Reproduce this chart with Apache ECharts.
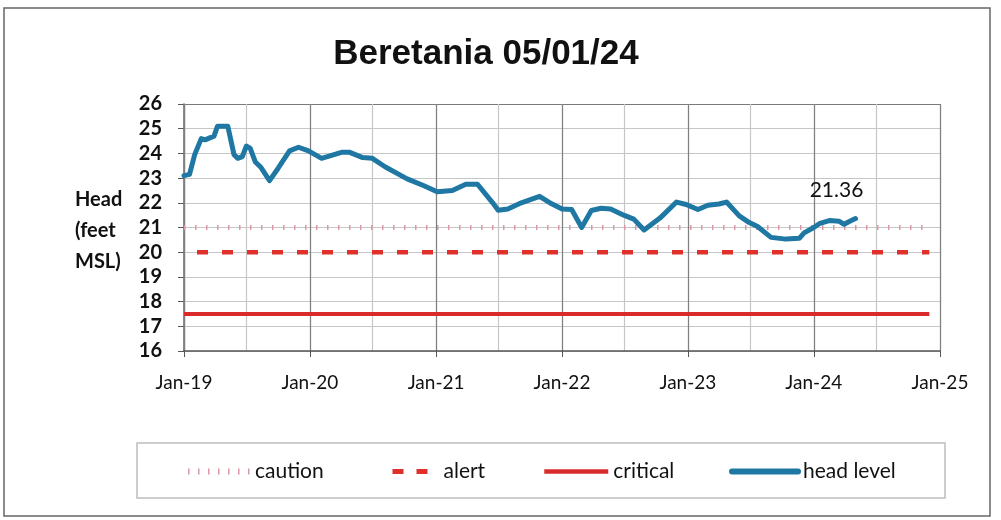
<!DOCTYPE html>
<html>
<head>
<meta charset="utf-8">
<script src="https://cdn.jsdelivr.net/npm/echarts@6/dist/echarts.min.js"></script>
<style>
html,body{margin:0;padding:0;background:#fff;}
#chart{width:1001px;height:520px;}
</style>
</head>
<body>
<div id="chart"></div>
<script>
const titleText = 'Beretania 05/01/24';
const yAxisTitle = 'Head\n(feet\nMSL)';
const yTicks = [16, 26, 1]; // min, max, step
const xRange = ['2019-01-01', '2025-01-01'];
const monthNames = ['Jan','Feb','Mar','Apr','May','Jun','Jul','Aug','Sep','Oct','Nov','Dec'];
const seriesNames = ['caution', 'alert', 'critical', 'head level'];

const headDates = [
  '2019-01-01','2019-01-17','2019-02-01','2019-02-20','2019-03-03','2019-03-29','2019-04-08','2019-05-08',
  '2019-05-26','2019-06-06','2019-06-19','2019-07-01','2019-07-12','2019-07-27','2019-08-11','2019-09-06',
  '2019-10-01','2019-11-03','2019-11-29','2019-12-28',
  '2020-02-04','2020-04-04','2020-04-24','2020-06-02','2020-06-30','2020-08-07','2020-10-09','2020-11-25',
  '2021-01-04','2021-02-17','2021-03-28','2021-05-01','2021-06-14','2021-06-30','2021-07-28','2021-09-05',
  '2021-10-28','2021-12-02',
  '2022-01-01','2022-01-29','2022-02-27','2022-03-27','2022-04-24','2022-05-22','2022-06-29','2022-07-28',
  '2022-08-27','2022-10-12','2022-11-29','2022-12-27',
  '2023-01-30','2023-02-28','2023-04-01','2023-04-23','2023-05-30','2023-06-28','2023-07-22','2023-08-30',
  '2023-10-12','2023-11-20','2023-12-04',
  '2024-01-01','2024-01-19','2024-02-15','2024-03-15','2024-03-29','2024-04-13','2024-05-01'
];
const headValues = [
  23.1, 23.15, 23.95, 24.6, 24.55, 24.7, 25.1, 25.1,
  23.95, 23.8, 23.87, 24.3, 24.2, 23.65, 23.45, 22.9,
  23.4, 24.1, 24.25, 24.1,
  23.8, 24.05, 24.05, 23.83, 23.8, 23.45, 22.97, 22.7,
  22.45, 22.5, 22.75, 22.75, 22.0, 21.7, 21.75, 22.0,
  22.26, 21.96,
  21.75, 21.73, 21.0, 21.69, 21.78, 21.75, 21.5, 21.34,
  20.9, 21.38, 22.03, 21.93,
  21.73, 21.9, 21.95, 22.03, 21.47, 21.2, 21.04, 20.6,
  20.53, 20.56, 20.78,
  21.0, 21.17, 21.28, 21.25, 21.13, 21.24, 21.36
];
const thresholdDates = ['2019-01-01', '2024-12-01'];
const cautionValues = [21, 21];
const alertValues = [20, 20];
const criticalValues = [17.5, 17.5];

const pair = (d, v) => d.map((x, i) => [x, v[i]]);
const lastIdx = headValues.length - 1;

const FONT = 'Lato';
const C_CAUTION = '#d99aa6', C_ALERT = '#e0302c', C_CRIT = '#d92b2b', C_HEAD = '#1f78a3';
const chart = echarts.init(document.getElementById('chart'), null, {renderer: 'canvas'});
const yN = Math.round((yTicks[1] - yTicks[0]) / yTicks[2]) + 1;
const yLineColors = Array.from({length: yN}, (_, i) => i === yN - 1 ? '#7a7a7a' : '#c6c6c6');

const legendBase = {top: 456, itemHeight: 14, textStyle: {fontFamily: FONT, fontSize: 21, color: '#111'},
                    itemStyle: {opacity: 0}, selectedMode: false};
const legends = [
  Object.assign({}, legendBase, {left: 180, itemWidth: 62, data: [{name: seriesNames[0], lineStyle: {width: 6, type: [1.5, 8.5], color: C_CAUTION}}]}),
  Object.assign({}, legendBase, {left: 373, itemWidth: 58, data: [{name: seriesNames[1], lineStyle: {width: 5, type: [11, 13], color: C_ALERT}}]}),
  Object.assign({}, legendBase, {left: 537, itemWidth: 64, data: [{name: seriesNames[2], lineStyle: {width: 4.5, color: C_CRIT}}]}),
  Object.assign({}, legendBase, {left: 724, itemWidth: 66, data: [{name: seriesNames[3], lineStyle: {width: 6, color: C_HEAD, cap: 'round'}}]})
];

chart.setOption({
  backgroundColor: '#ffffff',
  animation: false,
  title: {
    text: titleText, left: 481, top: 32, textAlign: 'center',
    textStyle: {fontFamily: 'Liberation Sans', fontWeight: 'bold', fontSize: 35, color: '#111'}
  },
  graphic: [
    {type: 'rect', shape: {x: 4, y: 8, width: 986, height: 508}, style: {fill: 'none', stroke: '#666', lineWidth: 1.5}, silent: true},
    {type: 'rect', shape: {x: 137, y: 443, width: 808, height: 55}, style: {fill: 'none', stroke: '#bdbdbd', lineWidth: 1.5}, silent: true},
    {type: 'text', left: 75, top: 184, style: {text: yAxisTitle, fontFamily: FONT, fontWeight: 'bold', fontSize: 20, lineHeight: 31, fill: '#111', align: 'center'}}
  ],
  legend: legends,
  grid: {left: 184, right: 61, top: 104, bottom: 169, containLabel: false},
  xAxis: [
    {
      type: 'time', min: xRange[0], max: xRange[1],
      minInterval: 365 * 86400000, maxInterval: 366 * 86400000,
      axisLine: {show: true, lineStyle: {color: '#555', width: 1.5}},
      axisTick: {show: true, length: 6, lineStyle: {color: '#555'}},
      axisLabel: {
        margin: 22, fontFamily: FONT, fontSize: 19, color: '#111', showMinLabel: true, showMaxLabel: true,
        formatter: (v) => { const d = new Date(v); return monthNames[d.getMonth()] + '-' + String(d.getFullYear()).slice(2); }
      },
      splitLine: {show: true, lineStyle: {color: '#808080', width: 1.2}},
      z: 3
    },
    {
      type: 'time', min: xRange[0], max: xRange[1],
      minInterval: 180 * 86400000, maxInterval: 186 * 86400000,
      axisLine: {show: false}, axisTick: {show: false}, axisLabel: {show: false},
      splitLine: {show: true, lineStyle: {color: '#c6c6c6', width: 1.2}},
      z: 1
    }
  ],
  yAxis: {
    type: 'value', min: yTicks[0], max: yTicks[1], interval: yTicks[2],
    axisLine: {show: true, lineStyle: {color: '#555', width: 1.5}},
    axisTick: {show: true, length: 6, lineStyle: {color: '#555'}},
    axisLabel: {margin: 22, fontFamily: FONT, fontWeight: 'bold', fontSize: 20, color: '#111'},
    splitLine: {show: true, lineStyle: {color: yLineColors, width: 1.2}}
  },
  series: [
    {name: seriesNames[0], type: 'line', xAxisIndex: 0, data: pair(thresholdDates, cautionValues), symbol: 'none',
     lineStyle: {color: C_CAUTION, width: 5, type: [1.5, 9.5]}, itemStyle: {color: C_CAUTION}, z: 4},
    {name: seriesNames[1], type: 'line', xAxisIndex: 0, data: pair(thresholdDates, alertValues), symbol: 'none',
     lineStyle: {color: C_ALERT, width: 4.5, type: [11, 14], dashOffset: 12}, itemStyle: {color: C_ALERT}, z: 4},
    {name: seriesNames[2], type: 'line', xAxisIndex: 0, data: pair(thresholdDates, criticalValues), symbol: 'none',
     lineStyle: {color: C_CRIT, width: 4}, itemStyle: {color: C_CRIT}, z: 4},
    {name: seriesNames[3], type: 'line', xAxisIndex: 0, data: pair(headDates, headValues), symbol: 'none',
     lineStyle: {color: C_HEAD, width: 5, cap: 'round', join: 'round'}, itemStyle: {color: C_HEAD}, z: 5},
    {name: 'last value', type: 'scatter', xAxisIndex: 0, symbolSize: 0, silent: true, z: 6,
     itemStyle: {opacity: 1, color: C_HEAD},
     data: [[headDates[lastIdx], headValues[lastIdx]]],
     label: {show: true, position: 'top', offset: [-19, -13], formatter: (o) => o.value[1].toFixed(2),
             fontFamily: FONT, fontSize: 21, color: '#111', opacity: 1}}
  ]
});
</script>
</body>
</html>
